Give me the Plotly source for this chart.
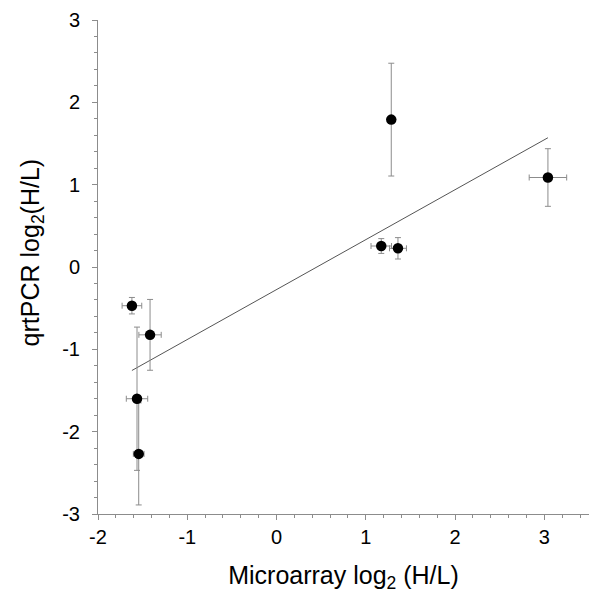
import plotly.graph_objects as go

# Data
microarray_x = [-1.62, -1.417, -1.563, -1.544, 1.285, 1.173, 1.36, 3.04]
qrtpcr_y = [-0.47, -0.824, -1.60, -2.27, 1.79, 0.255, 0.227, 1.087]
x_err = [0.11, 0.125, 0.12, 0.06, 0.0, 0.115, 0.095, 0.21]
y_err = [0.10, 0.43, 0.87, 0.62, 0.685, 0.09, 0.13, 0.35]
fit_x = [-1.62, 3.04]
fit_y = [-1.257, 1.57]
x_ticks = [-2, -1, 0, 1, 2, 3]
y_ticks = [-3, -2, -1, 0, 1, 2, 3]

font_family = "Liberation Sans, Arial, Helvetica, sans-serif"
gray = "#8c8c8c"

fig = go.Figure()

fig.add_trace(go.Scatter(
    x=fit_x, y=fit_y, mode="lines",
    line=dict(color="#555555", width=1),
    hoverinfo="skip", showlegend=False,
))

fig.add_trace(go.Scatter(
    x=microarray_x, y=qrtpcr_y, mode="markers",
    marker=dict(color="black", size=10.5),
    error_x=dict(type="data", array=x_err, visible=True, color=gray, thickness=1, width=3),
    error_y=dict(type="data", array=y_err, visible=True, color=gray, thickness=1, width=3),
    showlegend=False,
))

# page body has an 8px default margin, so the figure is sized/offset to compensate
fig.update_layout(
    width=592, height=605,
    margin=dict(l=90, r=11, t=12, b=99),
    paper_bgcolor="white", plot_bgcolor="white",
    font=dict(family=font_family, color="black", size=18),
    xaxis=dict(
        range=[-2, 3.5], tickvals=x_ticks,
        ticktext=[str(v) for v in x_ticks],
        automargin=False,
        showgrid=False, zeroline=False, showline=True, linecolor=gray, linewidth=1,
        ticks="outside", ticklen=5, tickcolor=gray, tickwidth=1,
        minor=dict(dtick=0.2, ticks="outside", ticklen=3, tickcolor=gray, tickwidth=1, showgrid=False),
        tickfont=dict(size=20),
        title=dict(text="Microarray log<sub>2</sub> (H/L)", font=dict(size=25), standoff=19),
    ),
    yaxis=dict(
        range=[-3, 3], tickvals=y_ticks,
        ticktext=[str(v) for v in y_ticks],
        automargin=False,
        showgrid=False, zeroline=False, showline=True, linecolor=gray, linewidth=1,
        ticks="outside", ticklen=5, tickcolor=gray, tickwidth=1,
        ticklabelstandoff=8,
        minor=dict(dtick=0.2, ticks="outside", ticklen=3, tickcolor=gray, tickwidth=1, showgrid=False),
        tickfont=dict(size=20),
    ),
    annotations=[dict(
        text="qrtPCR log<sub>2</sub>(H/L)", textangle=-90,
        xref="paper", yref="paper", x=-0.134, y=0.53,
        xanchor="center", yanchor="middle", showarrow=False,
        font=dict(size=25, family=font_family, color="black"),
    )],
)

fig.write_html("out.html")
